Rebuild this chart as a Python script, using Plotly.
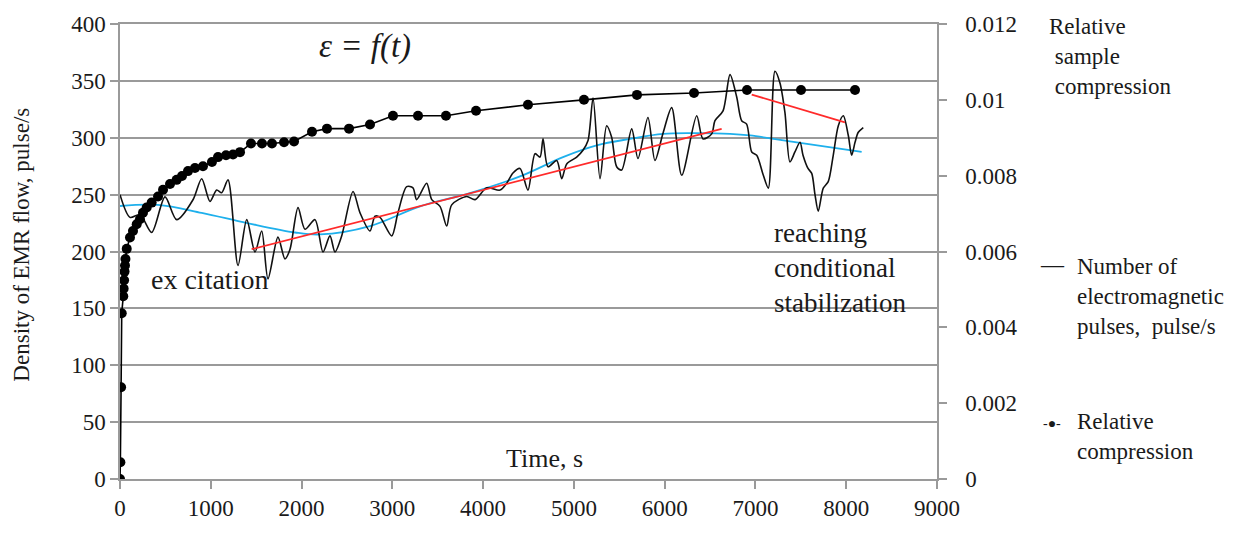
import plotly.graph_objects as go

# Number of electromagnetic pulses (pulse/s) versus time (s)
emr_t = [0, 110, 220, 349, 496, 624, 804, 900, 991, 1065, 1120, 1190, 1300, 1396, 1487,
         1561, 1630, 1740, 1817, 1873, 1961, 2038, 2148, 2236, 2313, 2368, 2442, 2567,
         2644, 2754, 2809, 2864, 2993, 3062, 3158, 3227, 3268, 3378, 3434, 3525, 3599,
         3654, 3819, 3911, 4039, 4186, 4260, 4329, 4406, 4494, 4572, 4627, 4660, 4715,
         4811, 4866, 4921, 5031, 5100, 5156, 5211, 5288, 5361, 5416, 5471, 5526, 5637,
         5706, 5816, 5893, 5981, 6077, 6188, 6353, 6422, 6518, 6554, 6643, 6720, 6793,
         6848, 6903, 6959, 7014, 7086, 7142, 7215, 7270, 7325, 7380, 7435, 7491, 7524,
         7579, 7620, 7656, 7692, 7747, 7802, 7857, 7913, 7968, 8023, 8060, 8097, 8133,
         8188]
emr_v = [250, 230, 232.5, 216.7, 248, 228, 245.5, 264, 244, 254, 251.6, 263, 187.7, 228,
         199.6, 218, 176, 212.6, 193.5, 202, 238.6, 219.5, 228, 199.6, 213.7, 199.6, 213.7,
         252.8, 234, 218, 231, 230, 213.7, 234, 257, 256, 245.6, 260, 245.6, 239.7, 222.4,
         241, 248.4, 245.6, 256, 254, 260, 269, 273, 254, 286, 283, 299, 274.5, 280, 264,
         277, 283, 289, 297.6, 335, 264, 310.6, 300.5, 274.5, 271.6, 307.8, 281.7, 317.8,
         280, 303.7, 326.5, 267, 319.3, 299, 303.4, 315, 323.6, 355.5, 336, 315, 312,
         287.5, 284.6, 267.2, 255.7, 358.4, 348.2, 322, 278.8, 287.5, 296, 284.6, 273,
         268.7, 250, 235.4, 255.7, 261.4, 284.6, 310.6, 319.3, 302, 284.6, 296, 304.8, 309]

# Relative sample compression
comp_t = [0, 4, 12, 19, 36, 40, 45, 50, 55, 60, 74, 110, 143, 184, 220, 253, 294, 349,
          419, 474, 551, 624, 683, 749, 826, 914, 1013, 1080, 1168, 1245, 1322, 1443,
          1564, 1674, 1807, 1917, 2115, 2280, 2523, 2754, 3007, 3283, 3591, 3922, 4494,
          5111, 5695, 6323, 6907, 7502, 8097]
comp_v = [0, 0.00044, 0.00242, 0.00437, 0.00482, 0.00502, 0.00524, 0.00547, 0.00563,
          0.0058, 0.00607, 0.00637, 0.00654, 0.00672, 0.00685, 0.00702, 0.00716, 0.00729,
          0.00745, 0.00763, 0.00778, 0.00789, 0.00799, 0.00812, 0.0082, 0.00825, 0.00836,
          0.00849, 0.00854, 0.00856, 0.00862, 0.00885, 0.00885, 0.00885, 0.00888, 0.0089,
          0.00916, 0.00924, 0.00924, 0.00935, 0.00958, 0.00958, 0.00958, 0.00971, 0.00987,
          0.0100, 0.01013, 0.01018, 0.01026, 0.01026, 0.01026]

# Polynomial trend of the pulse rate
trend_t = [0, 419, 900, 1400, 1928, 2203, 2754, 3305, 3855, 4406, 4880, 5251, 5618, 5981,
           6353, 6720, 6940, 7454, 8170]
trend_v = [240, 241, 234, 225, 216.7, 215, 222.4, 239.7, 251.4, 266, 283, 293.3, 299,
           303.4, 304, 303.4, 302, 296, 287.5]

# Linear segments: growth stage and stabilization stage
rise_t = [1450, 6628]
rise_v = [202, 307.8]
fall_t = [6959, 7986]
fall_v = [338, 313.5]

x_ticks = list(range(0, 9001, 1000))
y_ticks = list(range(0, 401, 50))
y2_ticks = [0, 0.002, 0.004, 0.006, 0.008, 0.010, 0.012]
y2_text = ["0", "0.002", "0.004", "0.006", "0.008", "0.01", "0.012"]

SERIF = "Liberation Serif"
TXT = "#1a1a1a"
GRID = "#9a9a9a"

fig = go.Figure()

fig.add_trace(go.Scatter(x=trend_t, y=trend_v, mode="lines", line=dict(color="#1eb0ec", width=1.8, shape="spline"),
                         showlegend=False, hoverinfo="skip"))
fig.add_trace(go.Scatter(x=emr_t, y=emr_v, mode="lines",
                         line=dict(color="#111111", width=1.6, shape="spline", smoothing=0.8),
                         name="Number of electromagnetic pulses, pulse/s", showlegend=False))
fig.add_trace(go.Scatter(x=rise_t, y=rise_v, mode="lines", line=dict(color="#ff2a2a", width=1.8),
                         showlegend=False, hoverinfo="skip"))
fig.add_trace(go.Scatter(x=fall_t, y=fall_v, mode="lines", line=dict(color="#ff2a2a", width=1.8),
                         showlegend=False, hoverinfo="skip"))
fig.add_trace(go.Scatter(x=comp_t, y=comp_v, mode="lines+markers", yaxis="y2",
                         line=dict(color="#000000", width=1.6),
                         marker=dict(color="#000000", size=10),
                         name="Relative compression", showlegend=False))

tickfont = dict(family=SERIF, size=23, color=TXT)

fig.update_layout(
    width=1259, height=533,
    margin=dict(l=120, r=322, t=22, b=50),
    paper_bgcolor="white", plot_bgcolor="white",
    font=dict(family=SERIF, size=23, color=TXT),
    xaxis=dict(range=[0, 9000], tickvals=x_ticks, showgrid=False, zeroline=False,
               showline=True, linecolor=GRID, linewidth=1.5, mirror=True,
               ticks="outside", ticklen=8, tickcolor=GRID, tickwidth=1.5,
               tickfont=tickfont),
    yaxis=dict(range=[0, 400], tickvals=y_ticks, showgrid=True, gridcolor=GRID, gridwidth=1.5,
               zeroline=False, showline=True, linecolor=GRID, linewidth=1.5,
               ticks="outside", ticklen=8, tickcolor=GRID, tickwidth=1.5,
               tickfont=tickfont),
    yaxis2=dict(range=[0, 0.012], tickvals=y2_ticks, ticktext=y2_text, overlaying="y", side="right",
                showgrid=False, zeroline=False, showline=True, linecolor=GRID, linewidth=1.5,
                ticks="outside", ticklen=8, tickcolor=GRID, tickwidth=1.5,
                ticklabelstandoff=14, tickfont=tickfont),
)

def note(text, x, y, size=23, xanchor="center", yanchor="middle", align="center", angle=0):
    fig.add_annotation(text=text, x=x, y=y, xref="paper", yref="paper", showarrow=False,
                       xanchor=xanchor, yanchor=yanchor, align=align, textangle=angle,
                       font=dict(family=SERIF, size=size, color=TXT))

note("<i>ε = f(t)</i>", 0.300, 0.950, size=33)
note("ex citation", 0.109, 0.438, size=28)
note("reaching<br>conditional<br>stabilization", 0.798, 0.464, size=27, xanchor="left", align="left")
note("Time, s", 0.520, 0.046, size=26)
note("Density of EMR flow, pulse/s", -0.120, 0.515, size=23, angle=-90)
note("Relative<br>&nbsp;sample<br>&nbsp;compression", 1.1346, 0.928, size=23, xanchor="left", align="left")
note("—", 1.1408, 0.4707, size=23)
note("Number of<br>electromagnetic<br>pulses, &nbsp;pulse/s", 1.169, 0.401, size=23, xanchor="left", align="left")
note("-●-", 1.1408, 0.1215, size=14)
note("Relative<br>compression", 1.169, 0.0933, size=23, xanchor="left", align="left")

fig.write_html("out.html")
